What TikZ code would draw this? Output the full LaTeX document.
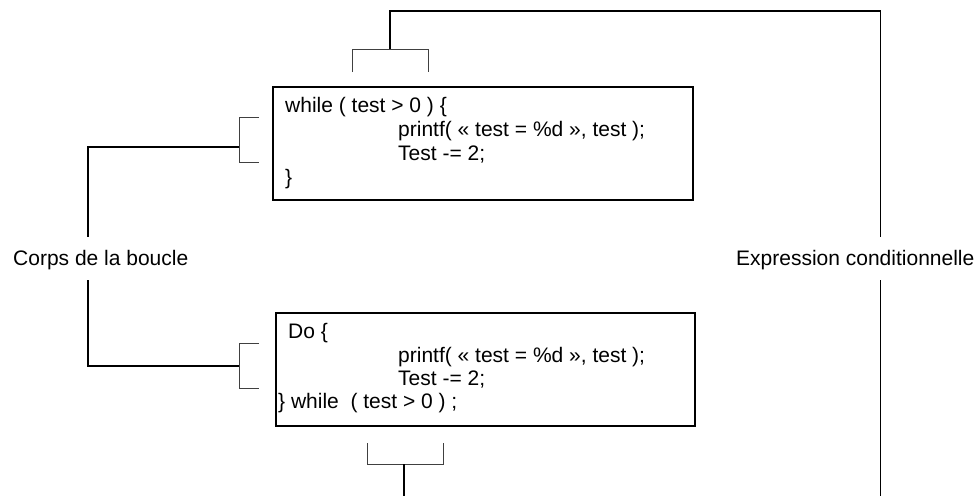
\documentclass[tikz,border=0pt]{standalone}
\usepackage{fontspec}
\setmainfont{Liberation Sans}
\begin{document}
\begin{tikzpicture}[x=1pt,y=-1pt,
  codebox/.style={draw=black,line width=1.6pt,minimum width=#1,minimum height=113pt,inner sep=0pt,outer sep=0pt},
  codeline/.style={anchor=base west,inner sep=0pt,font=\fontsize{21}{24}\selectfont},
  lbl/.style={anchor=base west,inner sep=0pt,text height=28pt,text depth=15pt,font=\fontsize{21}{24}\selectfont},
  conn/.style={draw=black,line width=1.4pt},
  brk/.style={draw=black!75,line width=1pt}]
\useasboundingbox (0,0) rectangle (976,496);
% boxes
\node[codebox=420pt] (wbox) at (483,143.5) {};
\node[codebox=419pt] (dbox) at (485.5,369.5) {};
% top box text
\node[codeline] (w1) at (285,112) {while ( test > 0 ) \{};
\node[codeline] (w2) at (398,136) {printf( « test = \%d », test );};
\node[codeline] (w3) at (398,160) {Test -= 2;};
\node[codeline] (w4) at (285,184) {\}};
% bottom box text
\node[codeline] (d1) at (288,338) {Do \{};
\node[codeline] (d2) at (398,362) {printf( « test = \%d », test );};
\node[codeline] (d3) at (398,385) {Test -= 2;};
\node[codeline] (d4) at (278,408) {\} while\ \ ( test > 0 ) ;};
% labels
\node[lbl] (corps) at (13,265) {Corps de la boucle};
\node[lbl] (expr) at (736,265) {Expression conditionnelle};
% bracket coordinates
\coordinate (wtop) at (390,49);
\coordinate (wleft) at (239,147);
\coordinate (dleft) at (239,366);
\coordinate (dbot) at (404,464);
\coordinate (lx) at (88,0);
\coordinate (rx) at (880.5,0);
\coordinate (bend) at (404,496);
\coordinate (rend) at (880.5,496);
% brackets
\draw[brk] (352,72) -- (352,49) -- (428,49) -- (428,72);
\draw[brk] (259,117) -- (239,117) -- (239,162) -- (259,162);
\draw[brk] (259,343) -- (239,343) -- (239,388) -- (259,388);
\draw[brk] (367,443) -- (367,464) -- (443,464) -- (443,443);
% connectors
\draw[conn] (wleft) -- (wleft -| lx) -- (lx |- corps.north);
\draw[conn] (lx |- corps.south) -- (lx |- dleft) -- (dleft);
\draw[conn] (wtop) -- (390,11) -- (rx |- 0,11) -- (rx |- expr.north);
\draw[conn] (rx |- expr.south) -- (rend);
\draw[conn] (dbot) -- (bend);
\end{tikzpicture}
\end{document}
